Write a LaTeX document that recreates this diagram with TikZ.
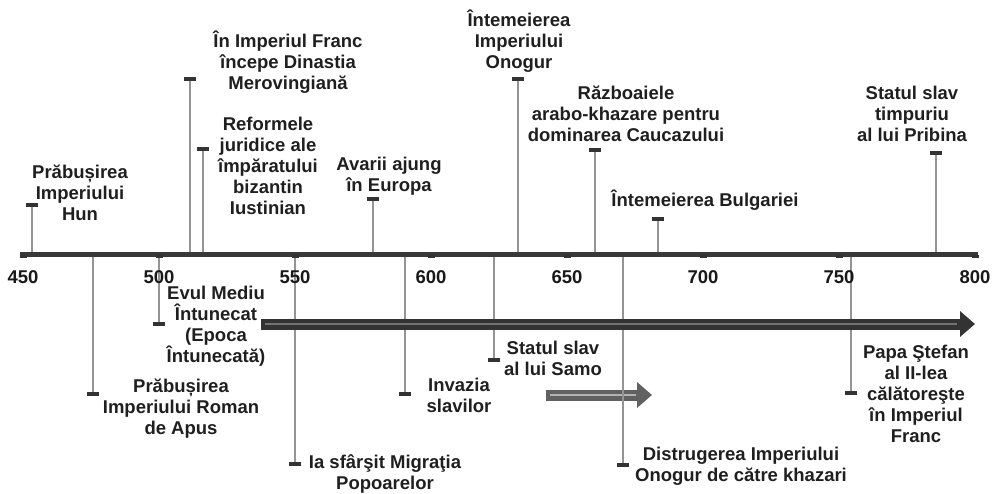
\documentclass[tikz,border=0pt]{standalone}
\usepackage{fontspec}
\setmainfont{Liberation Sans}
\usetikzlibrary{arrows.meta,positioning}

\begin{document}
\begin{tikzpicture}[x=1pt,y=-1pt,
  lbl/.style={font=\bfseries\fontsize{18.5}{21}\selectfont,align=center,text=black!88,inner sep=0pt},
  yr/.style={font=\bfseries\fontsize{18.5}{21}\selectfont,text=black!90,inner sep=0pt},
  capbar/.style={fill=black!80,minimum width=12pt,minimum height=3.5pt,inner sep=0pt},
  yrmark/.style={fill=black!80,minimum width=7pt,minimum height=3pt,inner sep=0pt},
  stem/.style={draw=black!42,line width=2pt},
  band/.style={line width=11pt,-{Triangle[length=15pt,width=25pt]}}]
\useasboundingbox (0,0) rectangle (998,493);

% stems above and below the axis
\foreach \x/\c/\n in {32/205/hun,190/79/merov,203/149/iust,373/199/avar,518/79/onog,595/150/arab,658/219/bulg,936/153/prib,
                      93/394/rom,159/324/evul,295/464/migr,405/394/slav,494/360/samo,623/465/khaz,851/393/papa}{
  \coordinate (a\n) at (\x,254);
  \node[capbar] (c\n) at (\x,\c) {};
  \draw[stem] (a\n) -- (c\n);
}

% axis
\coordinate (ax0) at (20,254);
\coordinate (ax1) at (978,254);
\draw[line width=5pt,black!78] (ax0) -- (ax1);
\foreach \y [count=\i from 0] in {450,500,...,800}{
  \node[yrmark] (t\y) at (23+\i*136,256) {};
  \node[yr] (y\y) at (23+\i*136,277) {\y};
}

% arrows
\coordinate (ev0) at (261,324);
\coordinate (ev1) at (975,324);
\draw[band,black!80] (ev0) -- (ev1);
\draw[black!55,line width=1.5pt] ([xshift=4pt]ev0) -- ([xshift=-18pt]ev1);
\coordinate (sm0) at (546,395);
\coordinate (sm1) at (652,395);
\draw[band,black!62] (sm0) -- (sm1);
\draw[black!30,line width=1.5pt] ([xshift=4pt]sm0) -- ([xshift=-16pt]sm1);
\draw[stem] (623,380) -- (623,410);

% labels above
\node[lbl] (lhun) at (80,193) {Prăbușirea\\Imperiului\\Hun};
\node[lbl] (lmerov) at (288,62) {În Imperiul Franc\\începe Dinastia\\Merovingiană};
\node[lbl] (liust) at (268,166) {Reformele\\juridice ale\\împăratului\\bizantin\\Iustinian};
\node[lbl] (lavar) at (389,176) {Avarii ajung\\în Europa};
\node[lbl] (lonog) at (519,41) {Întemeierea\\Imperiului\\Onogur};
\node[lbl] (larab) at (626,114) {Războaiele\\arabo-khazare pentru\\dominarea Caucazului};
\node[lbl] (lbulg) at (705,200) {Întemeierea Bulgariei};
\node[lbl] (lprib) at (912,114) {Statul slav\\timpuriu\\al lui Pribina};

% labels below
\node[lbl] (lrom) at (181,409) {Prăbușirea\\Imperiului Roman\\de Apus};
\node[lbl] (levul) at (216,326) {Evul Mediu\\Întunecat\\(Epoca\\Întunecată)};
\node[lbl] (lmigr) at (385,474) {Ia sfârşit Migraţia\\Popoarelor};
\node[lbl] (lslav) at (459,395) {Invazia\\slavilor};
\node[lbl] (lsamo) at (553,358) {Statul slav\\al lui Samo};
\node[lbl] (lkhaz) at (741,466) {Distrugerea Imperiului\\Onogur de către khazari};
\node[lbl] (lpapa) at (916,394) {Papa Ştefan\\al II-lea\\călătoreşte\\în Imperiul\\Franc};
\end{tikzpicture}
\end{document}
